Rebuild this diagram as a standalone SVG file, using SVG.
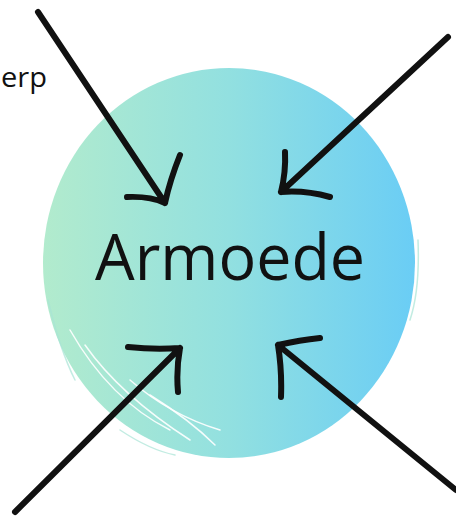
<svg xmlns="http://www.w3.org/2000/svg" width="456" height="517" viewBox="0 0 456 517">
<style>
.arrow{fill:none;stroke:#111;stroke-width:6;stroke-linecap:round;stroke-linejoin:round}
.lbl{font-family:"Open Sans","Liberation Sans",sans-serif;fill:#111}
.streak{fill:none;stroke:#fff;stroke-width:1.5;stroke-linecap:round;opacity:0.9}
.streak2{fill:none;stroke:#a8e4d6;stroke-width:1.5;stroke-linecap:round;opacity:0.7}
</style>
<defs>
<linearGradient id="g" x1="0" y1="0" x2="1" y2="0">
<stop offset="0" stop-color="#b2ebcd"/>
<stop offset="0.5" stop-color="#92e0e0"/>
<stop offset="1" stop-color="#6acdf5"/>
</linearGradient>
</defs>
<g id="circle">
<ellipse cx="229" cy="263" rx="186" ry="195" fill="url(#g)"/>
<path class="streak" d="M70 330 Q110 400 170 430"/>
<path class="streak" d="M85 345 Q120 395 190 440"/>
<path class="streak" d="M130 380 Q170 415 220 430"/>
<path class="streak" d="M150 395 Q190 420 215 445"/>
<path class="streak" d="M395 370 Q370 420 320 445"/>
<path class="streak2" d="M48 300 Q60 350 75 380"/>
<path class="streak2" d="M120 430 Q150 450 175 455"/>
<path class="streak2" d="M418 240 Q420 290 410 320"/>
</g>
<g id="armoede"><text class="lbl" x="230" y="280" font-size="64" text-anchor="middle" textLength="270" lengthAdjust="spacingAndGlyphs">Armoede</text></g>
<g id="erp"><text class="lbl" x="1" y="87" font-size="28" textLength="46" lengthAdjust="spacingAndGlyphs">erp</text></g>
<g id="connectors">
<path class="arrow" d="M38 12 L165 203 M180 155 Q170 180 165 203 Q150 196 127 197"/>
<path class="arrow" d="M448 37 L281 192 M285 152 Q286 172 281 192 Q305 190 330 197"/>
<path class="arrow" d="M15 512 L180 348 M128 347 Q155 350 180 348 Q176 370 178 392"/>
<path class="arrow" d="M456 490 L278 345 M320 338 Q300 340 278 345 Q282 370 281 397"/>
</g>
</svg>
